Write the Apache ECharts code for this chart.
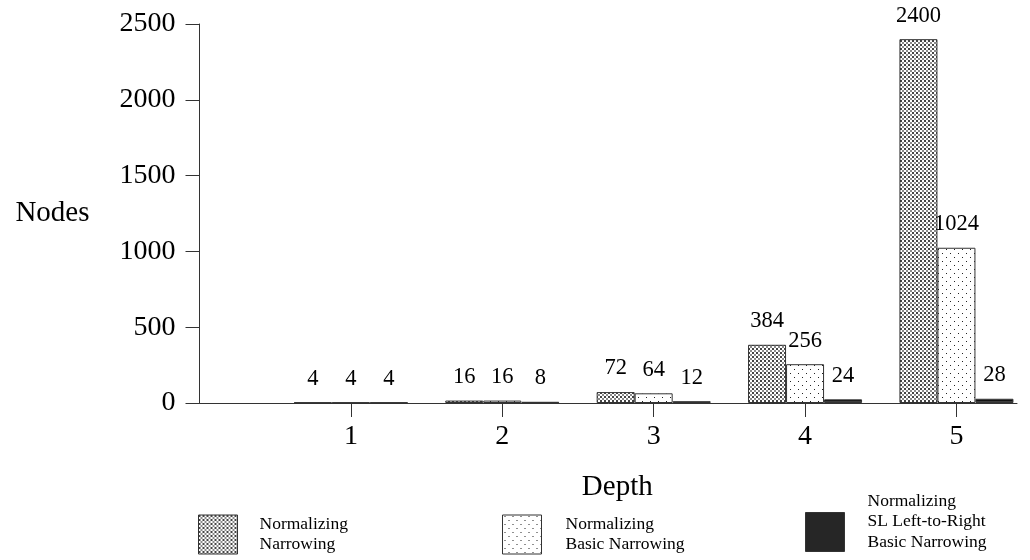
<!DOCTYPE html>
<html>
<head>
<meta charset="utf-8">
<title>Nodes by Depth</title>
<script src="https://cdn.jsdelivr.net/npm/echarts@6/dist/echarts.min.js"></script>
<style>
  html, body { margin: 0; padding: 0; background: #fff; }
  #chart { width: 1030px; height: 560px; }
</style>
</head>
<body>
<div id="chart"></div>
<script>
// Search depth and the number of nodes explored by each strategy
const depths = [1, 2, 3, 4, 5];
const narrowing = [4, 16, 72, 384, 2400];
const basicNarrowing = [4, 16, 64, 256, 1024];
const slBasicNarrowing = [4, 8, 12, 24, 28];
const yTicks = [0, 500, 1000, 1500, 2000, 2500];

const seriesNames = [
  'Normalizing Narrowing',
  'Normalizing Basic Narrowing',
  'Normalizing SL Left-to-Right Basic Narrowing'
];
// Legend captions; the three-line caption carries a trailing empty line so
// its last line sits level with the bottom of the swatch
const legendLines = {
  'Normalizing Narrowing': 'Normalizing\nNarrowing',
  'Normalizing Basic Narrowing': 'Normalizing\nBasic Narrowing',
  'Normalizing SL Left-to-Right Basic Narrowing': 'Normalizing\nSL Left-to-Right\nBasic Narrowing\n '
};

// Small bitmap tiles used as hatch fills
function tile(w, h, draw) {
  const c = document.createElement('canvas');
  c.width = w; c.height = h;
  const ctx = c.getContext('2d');
  draw(ctx);
  return { image: c, repeat: 'repeat' };
}
const denseDots = tile(4, 4, ctx => {
  ctx.fillStyle = '#ffffff'; ctx.fillRect(0, 0, 4, 4);
  ctx.fillStyle = '#444444'; ctx.fillRect(0, 0, 2, 2);
  ctx.fillStyle = '#8a8a8a'; ctx.fillRect(2, 2, 2, 2);
});
const sparseDots = tile(8, 8, ctx => {
  ctx.fillStyle = '#ffffff'; ctx.fillRect(0, 0, 8, 8);
  ctx.fillStyle = '#222222';
  ctx.fillRect(2, 1, 1, 1);
  ctx.fillRect(6, 5, 1, 1);
});
const darkLines = tile(2, 2, ctx => {
  ctx.fillStyle = '#111111'; ctx.fillRect(0, 0, 2, 2);
  ctx.fillStyle = '#3c3c3c'; ctx.fillRect(0, 1, 2, 1);
});

const font = 'Liberation Serif';
const pairs = vals => depths.map((d, i) => [d, vals[i]]);

function barSeries(name, vals, fill) {
  return {
    name: name,
    type: 'bar',
    data: pairs(vals),
    barWidth: 38,
    barGap: '0%',
    itemStyle: { color: fill, borderColor: '#333', borderWidth: 1 },
    label: {
      show: true,
      position: 'top',
      distance: 12,
      formatter: p => String(p.value[1]),
      fontFamily: font,
      fontSize: 22.5,
      color: '#000'
    }
  };
}

function legendAt(name, left, top, gap) {
  return {
    data: [name],
    left: left,
    top: top,
    padding: 0,
    orient: 'vertical',
    icon: 'rect',
    itemWidth: 39,
    itemHeight: 39,
    selectedMode: false,
    itemStyle: { borderColor: '#333', borderWidth: 1 },
    formatter: n => legendLines[n],
    textStyle: {
      fontFamily: font,
      fontSize: 17.5,
      lineHeight: 20.5,
      color: '#000',
      padding: [0, 0, 0, gap]
    }
  };
}

const chart = echarts.init(document.getElementById('chart'), null, { renderer: 'canvas' });
chart.setOption({
  backgroundColor: '#fff',
  animation: false,
  grid: { left: 199.5, right: 13, top: 24, bottom: 157, containLabel: false },
  xAxis: {
    type: 'value',
    min: 0,
    max: 5.4,
    interval: 1,
    name: 'Depth',
    nameLocation: 'middle',
    nameGap: 70,
    nameTextStyle: { fontFamily: font, fontSize: 29, color: '#000', padding: [0, 0, 0, 18] },
    splitLine: { show: false },
    axisLine: { show: true, lineStyle: { color: '#333', width: 1 } },
    axisTick: { show: true, length: 14, customValues: depths, lineStyle: { color: '#333' } },
    axisLabel: { customValues: depths, margin: 20, fontFamily: font, fontSize: 28, color: '#000' }
  },
  yAxis: {
    type: 'value',
    min: 0,
    max: 2500,
    interval: 500,
    name: 'Nodes',
    nameLocation: 'middle',
    nameRotate: 0,
    nameGap: 110,
    nameTextStyle: { fontFamily: font, fontSize: 29, color: '#000' },
    splitLine: { show: false },
    axisLine: { show: true, lineStyle: { color: '#333', width: 1 } },
    axisTick: { show: true, length: 14, customValues: yTicks, lineStyle: { color: '#333' } },
    axisLabel: {
      customValues: yTicks,
      margin: 24,
      formatter: v => String(v),
      fontFamily: font,
      fontSize: 28,
      color: '#000'
    }
  },
  legend: [
    legendAt(seriesNames[0], 198, 514, 17),
    legendAt(seriesNames[1], 502, 514, 19),
    legendAt(seriesNames[2], 805, 491, 18)
  ],
  series: [
    barSeries(seriesNames[0], narrowing, denseDots),
    barSeries(seriesNames[1], basicNarrowing, sparseDots),
    barSeries(seriesNames[2], slBasicNarrowing, darkLines)
  ]
});
</script>
</body>
</html>
